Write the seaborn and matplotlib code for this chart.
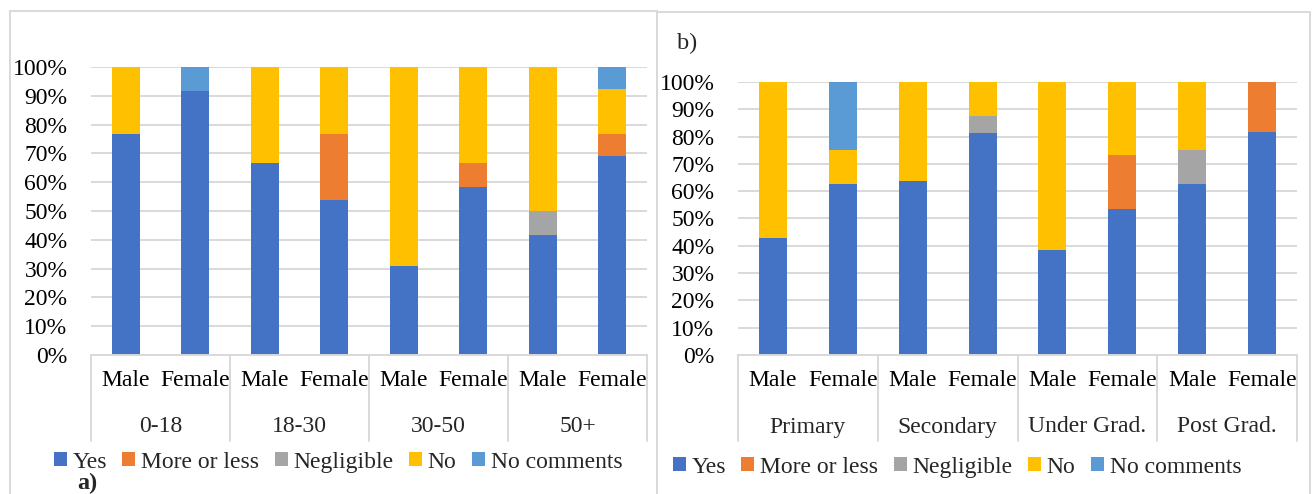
import pandas as pd
import matplotlib
matplotlib.use("Agg")
import matplotlib.pyplot as plt
import matplotlib.transforms as mtransforms
from matplotlib.patches import Patch, Rectangle
import seaborn as sns

# ---------------------------------------------
# DATA (percent of respondents)
# ---------------------------------------------
series = ["Yes", "More or less", "Negligible", "No", "No comments"]
colors = ["#4472C4", "#ED7D31", "#A5A5A5", "#FFC000", "#5B9BD5"]
genders = ["Male", "Female"]

# panel a) age groups
groups_a = ["0-18", "18-30", "30-50", "50+"]
yes_a = [76.9, 91.7, 66.7, 53.8, 30.8, 58.3, 41.7, 69.2]
more_a = [0, 0, 0, 23.1, 0, 8.3, 0, 7.7]
negl_a = [0, 0, 0, 0, 0, 0, 8.3, 0]
no_a = [23.1, 0, 33.3, 23.1, 69.2, 33.4, 50.0, 15.4]
nocom_a = [0, 8.3, 0, 0, 0, 0, 0, 7.7]

# panel b) education
groups_b = ["Primary", "Secondary", "Under Grad.", "Post Grad."]
yes_b = [42.9, 62.5, 63.6, 81.25, 38.5, 53.3, 62.5, 81.8]
more_b = [0, 0, 0, 0, 0, 20.0, 0, 18.2]
negl_b = [0, 0, 0, 6.25, 0, 0, 12.5, 0]
no_b = [57.1, 12.5, 36.4, 12.5, 61.5, 26.7, 25.0, 0]
nocom_b = [0, 25.0, 0, 0, 0, 0, 0, 0]

W, H = 1312, 494
GRID = "#d9d9d9"

sns.set_theme(style="white")
plt.rcParams["font.family"] = ["Liberation Serif", "DejaVu Serif"]
FS = 17


def make_frame(groups, cols):
    slots = [f"{g} {s}" for g in groups for s in genders]
    df = pd.DataFrame({"slot": slots})
    for name, vals in zip(series, cols):
        df[name] = vals
    # cumulative heights for stacking by overlay
    df[series] = df[series].cumsum(axis=1)
    return df


def draw_panel(ax, groups, cols):
    df = make_frame(groups, cols)
    order = list(df["slot"])
    # tallest cumulative layer first, then overlay lower layers
    for name, c in reversed(list(zip(series, colors))):
        sns.barplot(data=df, x="slot", y=name, color=c, order=order, width=0.4,
                    saturation=1, linewidth=0, errorbar=None, ax=ax)
    n = len(order)
    ax.set_xlim(-0.5, n - 0.5)
    ax.set_ylim(0, 100)
    ax.set_yticks(range(0, 101, 10))
    ax.set_yticklabels([f"{v}%" for v in range(0, 101, 10)], fontsize=FS)
    ax.set_xticks(range(n))
    ax.set_xticklabels(genders * len(groups), fontsize=FS)
    ax.set_xlabel("")
    ax.set_ylabel("")
    ax.tick_params(axis="both", length=0, colors="black")
    ax.tick_params(axis="y", pad=17)
    ax.tick_params(axis="x", pad=11)
    ax.yaxis.grid(True, color=GRID, linewidth=1.4)
    ax.set_axisbelow(True)
    for s in ["left", "right", "top"]:
        ax.spines[s].set_visible(False)
    ax.spines["bottom"].set_color(GRID)
    ax.spines["bottom"].set_linewidth(1.4)

    # group labels and separators under the category axis
    hpx = ax.get_position().height * H
    trans = mtransforms.blended_transform_factory(ax.transData, ax.transAxes)
    for i, g in enumerate(groups):
        ax.annotate(g, xy=(2 * i + 0.5, 0), xycoords=trans,
                    xytext=(0, -72 * 72 / 100), textcoords="offset points",
                    ha="center", va="center", fontsize=FS)
    for x in range(-1, n, 2):
        ax.plot([x + 0.5, x + 0.5], [0, -86 / hpx], transform=trans,
                color=GRID, linewidth=1.4, clip_on=False)


fig = plt.figure(figsize=(W / 100, H / 100), dpi=100)
ax_a = fig.add_axes([91 / W, 1 - 355 / H, (647 - 91) / W, (355 - 67) / H])
ax_b = fig.add_axes([738 / W, 1 - 355 / H, (1297 - 738) / W, (355 - 82) / H])

draw_panel(ax_a, groups_a, [yes_a, more_a, negl_a, no_a, nocom_a])
draw_panel(ax_b, groups_b, [yes_b, more_b, negl_b, no_b, nocom_b])

# panel frames
fig.add_artist(Rectangle((10 / W, -0.1), (657 - 10) / W, 1.1 - 11 / H,
                         transform=fig.transFigure, fill=False,
                         edgecolor=GRID, linewidth=1.4))
fig.add_artist(Rectangle((657 / W, -0.1), (1310 - 657) / W, 1.1 - 12 / H,
                         transform=fig.transFigure, fill=False,
                         edgecolor=GRID, linewidth=1.4))

handles = [Patch(facecolor=c, edgecolor="none", label=s) for s, c in zip(series, colors)]
for cx, cy in [(338, 462), (957, 467)]:
    fig.legend(handles=handles, loc="center", bbox_to_anchor=(cx / W, 1 - cy / H),
               ncol=5, frameon=False, fontsize=17, handlelength=0.55,
               handleheight=0.55, handletextpad=0.25, columnspacing=0.65,
               borderpad=0, borderaxespad=0)

fig.text(87 / W, 1 - 483 / H, "a)", fontsize=17.5, fontweight="bold",
         ha="center", va="center")
fig.text(687 / W, 1 - 43 / H, "b)", fontsize=17.5, ha="center", va="center")

fig.savefig("out.png", dpi=100)
